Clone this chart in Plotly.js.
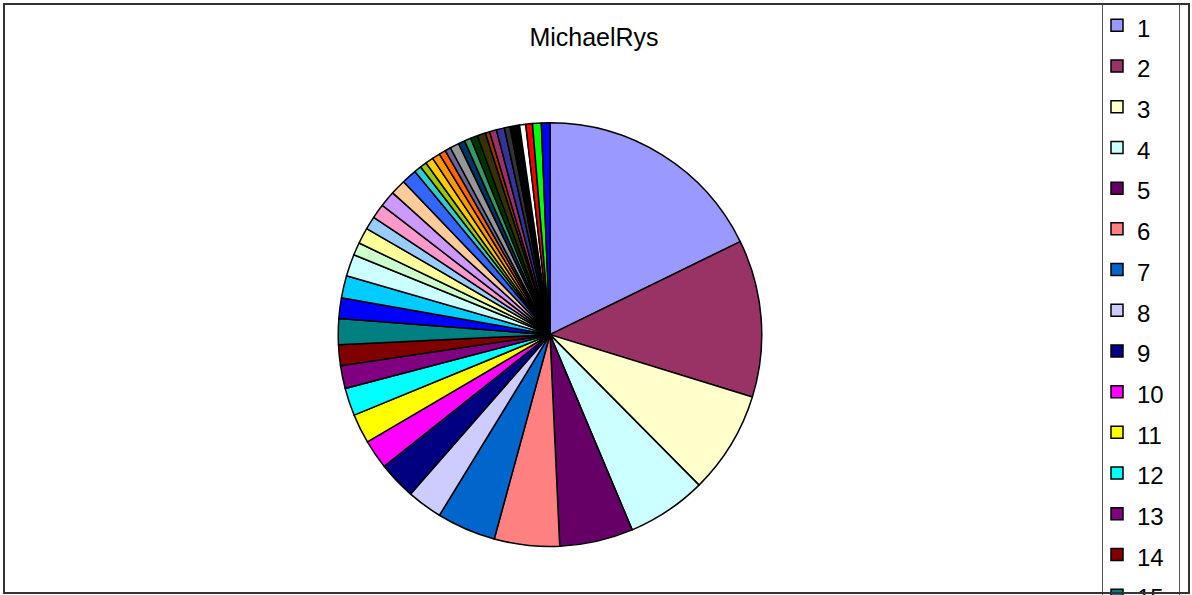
<!DOCTYPE html>
<html>
<head>
<meta charset="utf-8">
<script src="https://cdn.plot.ly/plotly-3.0.1.min.js"></script>
<style>
html, body { margin: 0; padding: 0; overflow: hidden; background: #fff; }
#frame { position: absolute; left: 3px; top: 3px; width: 1187px; height: 591px; box-sizing: border-box; border: 2px solid #333; pointer-events: none; z-index: 10; }
.legline { position: absolute; top: 3px; width: 0; height: 592px; border-left: 1.5px solid #555; pointer-events: none; z-index: 9; }
#chart { position: absolute; left: 0; top: 0; }
</style>
</head>
<body>
<div id="chart"></div>
<div class="legline" style="left:1101.5px"></div>
<div class="legline" style="left:1179px"></div>
<div id="frame"></div>
<script>
// Categories (legend labels)
const categories = ["1","2","3","4","5","6","7","8","9","10","11","12","13","14","15","16","17","18","19","20","21","22","23","24","25","26","27","28","29","30","31","32","33","34","35","36","37","38","39","40","41","42","43","44","45"];
// Slice shares (%)
const shares = [17.75,12.00,7.81,6.08,5.61,4.97,4.50,2.69,2.89,2.22,2.25,2.11,1.75,1.58,1.97,1.58,1.69,1.67,0.97,1.22,1.00,1.11,1.22,1.17,1.14,0.56,0.50,0.61,0.60,0.51,0.44,0.69,0.50,0.50,0.53,0.64,0.33,0.53,0.61,0.44,0.72,0.47,0.51,0.67,0.65];
// Slice colours (classic Excel palette order)
const sliceColors = ["#9999FF","#993366","#FFFFCC","#CCFFFF","#660066","#FF8080","#0066CC","#CCCCFF","#000080","#FF00FF","#FFFF00","#00FFFF","#800080","#800000","#008080","#0000FF","#00CCFF","#CCFFFF","#CCFFCC","#FFFF99","#99CCFF","#FF99CC","#CC99FF","#FFCC99","#3366FF","#33CCCC","#99CC00","#FFCC00","#FF9900","#FF6600","#666699","#969696","#003366","#339966","#003300","#333300","#993300","#993366","#333399","#333333","#000000","#FFFFFF","#FF0000","#00FF00","#0000FF"];
const chartTitle = "MichaelRys";

const W = 1192, H = 1900;
const FONT = "Arial, 'Liberation Sans', sans-serif";

const legendLabels = categories.map(c => '<span style="font-size:24px">' + c + '</span>');

const trace = {
  type: 'pie',
  labels: legendLabels,
  values: shares,
  sort: false,
  direction: 'clockwise',
  rotation: 0,
  textinfo: 'none',
  hoverinfo: 'label+percent',
  marker: { colors: sliceColors, line: { color: '#000', width: 1.5 } },
  domain: { x: [338 / W, 762 / W], y: [1 - 545 / H, 1 - 121 / H] },
  showlegend: true
};

const layout = {
  width: W, height: H,
  margin: { l: 0, r: 0, t: 0, b: 0 },
  paper_bgcolor: '#fff',
  font: { family: FONT, color: '#000' },
  title: { text: chartTitle, font: { family: FONT, size: 25, color: '#000' }, x: 594 / W, xanchor: 'center', y: 1 - 37 / H, yanchor: 'middle' },
  legend: {
    x: 1097 / W, xanchor: 'left', y: 1 + 2 / H, yanchor: 'top',
    borderwidth: 0, bgcolor: 'rgba(0,0,0,0)',
    font: { family: FONT, size: 29, color: '#000' },
    traceorder: 'normal'
  }
};

Plotly.newPlot('chart', [trace], layout, { displayModeBar: false, staticPlot: true });
</script>
</body>
</html>
